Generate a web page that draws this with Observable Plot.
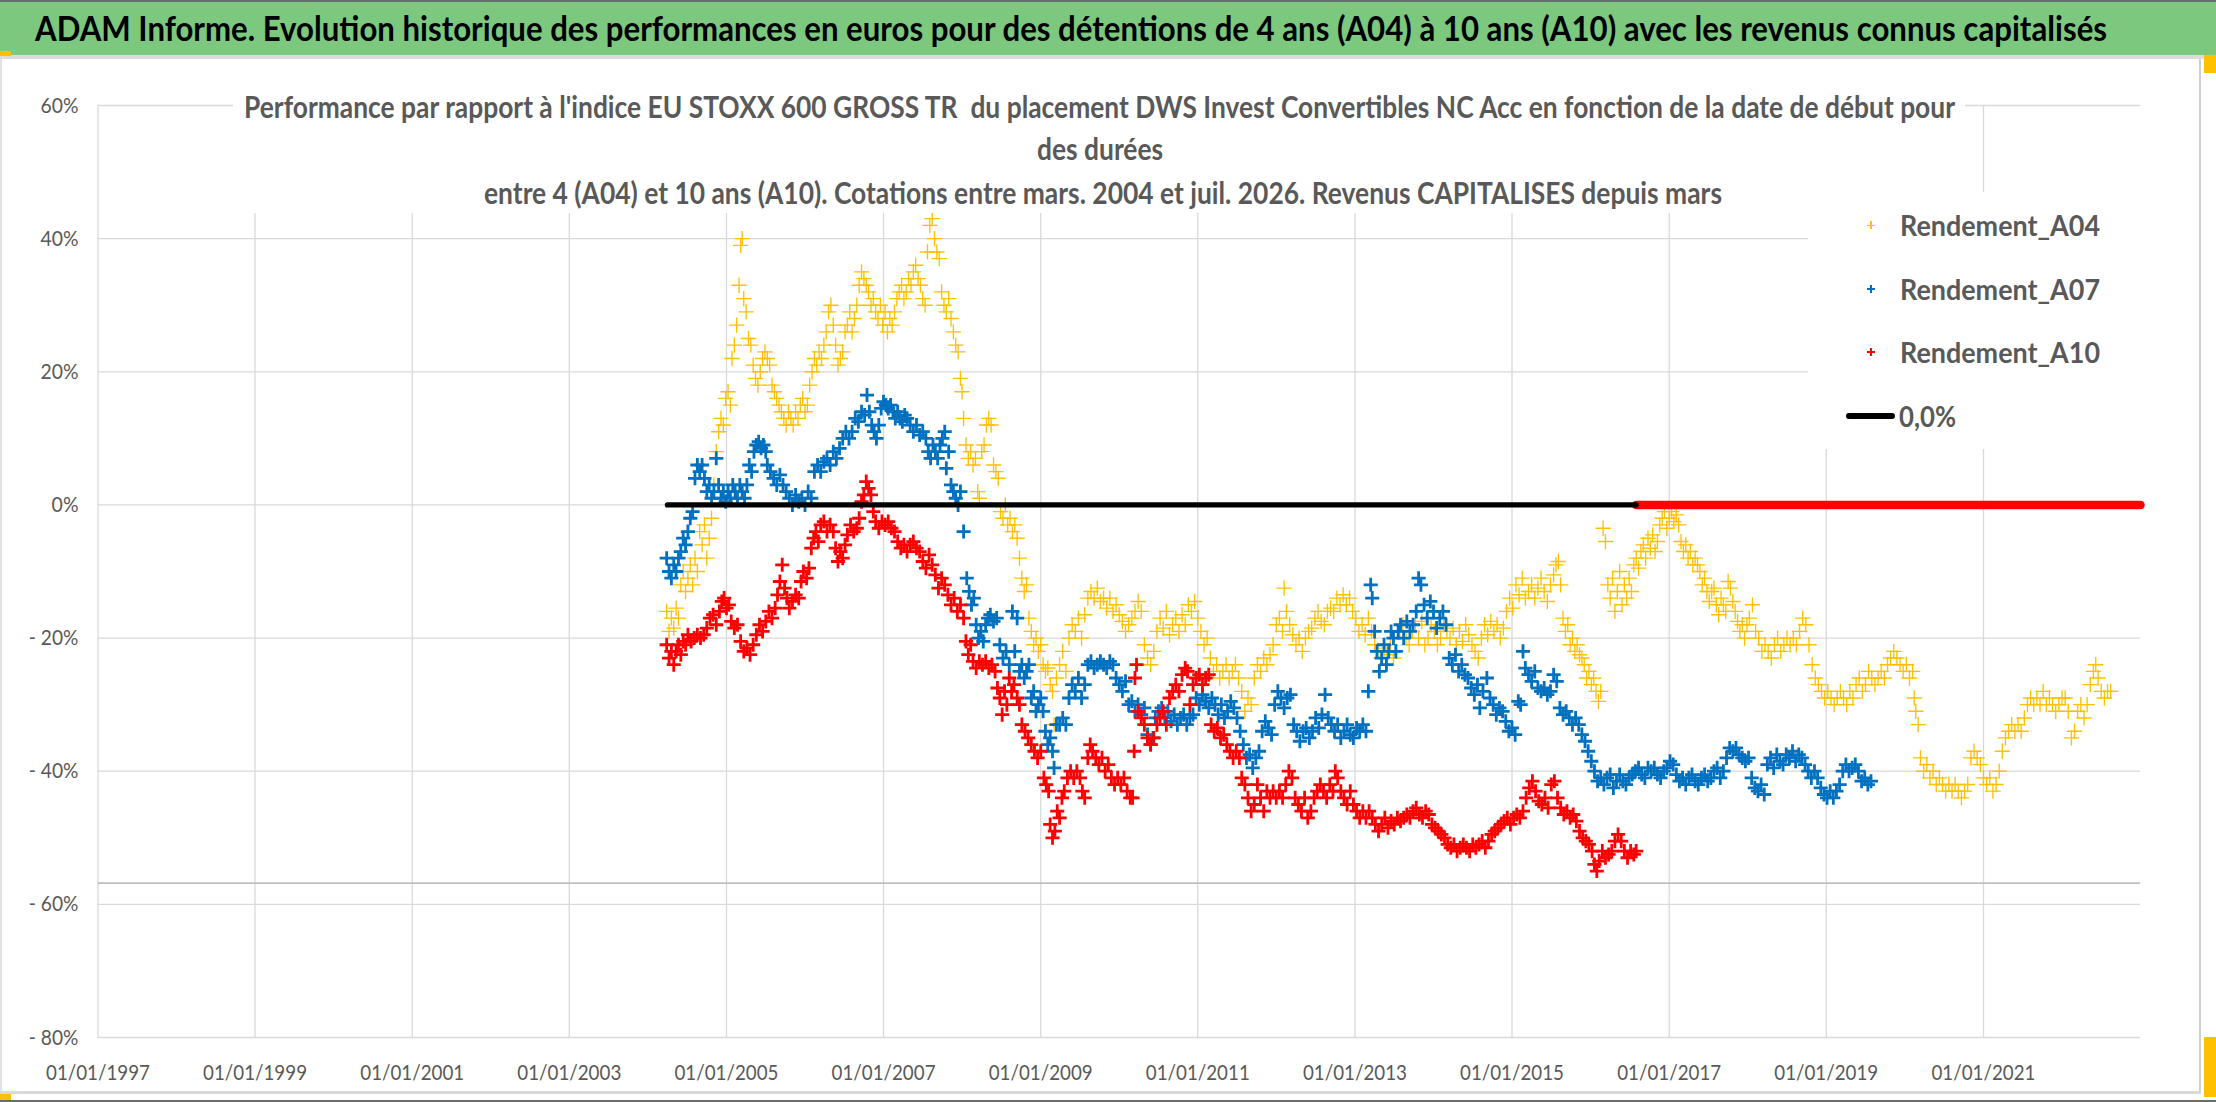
<!DOCTYPE html>
<html><head><meta charset="utf-8">
<script src="https://cdn.jsdelivr.net/npm/d3@7"></script>
<script src="https://cdn.jsdelivr.net/npm/@observablehq/plot@0.6"></script>
<style>
html,body{margin:0;padding:0;background:#fff;}
#page{position:relative;width:2216px;height:1102px;overflow:hidden;background:#fff;font-family:Lato,"Liberation Sans",sans-serif;}
#chart{position:absolute;left:0;top:0;}
.abs{position:absolute;}
.fit{position:absolute;white-space:pre;line-height:1.2;transform-origin:0 50%;}
</style></head>
<body><div id="page">
<div id="chart"></div>
<div class="abs" style="left:0;top:0;width:2216px;height:55px;background:#7DC87F;border-top:2px solid #6c6c6c;box-sizing:border-box"></div>
<div class="abs" style="left:0;top:55px;width:2216px;height:4px;background:#dcdcdc"></div>
<div class="abs" style="left:0;top:51px;width:11px;height:5px;background:#FFC000"></div>
<div class="abs" style="left:2204px;top:55px;width:12px;height:18px;background:#FFC000"></div>
<div class="abs" style="left:0;top:59px;width:2px;height:1033px;background:#e2e2e2"></div>
<div class="abs" style="left:2199px;top:59px;width:2px;height:1035px;background:#cfcfcf"></div>
<div class="abs" style="left:0;top:1091px;width:2201px;height:3px;background:#d9d9d9"></div>
<div class="abs" style="left:2204px;top:1037px;width:12px;height:60px;background:#FFC000"></div>
<div class="abs" style="left:0;top:1094px;width:11px;height:6px;background:#FFC000"></div>
<div class="abs" style="left:0;top:1100px;width:2216px;height:2px;background:#6c6c6c"></div>
<span id="hdr" class="fit" style="font-size:34px;font-weight:700;color:#000">ADAM Informe. Evolution historique des performances en euros pour des détentions de 4 ans (A04) à 10 ans (A10) avec les revenus connus capitalisés</span>
<div class="abs" style="left:233px;top:92px;width:1732px;height:121px;background:#fff"></div>
<span id="t1" class="fit" style="font-size:30px;font-weight:700;color:#595959">Performance par rapport à l'indice EU STOXX 600 GROSS TR  du placement DWS Invest Convertibles NC Acc en fonction de la date de début pour</span>
<span id="t2" class="fit" style="font-size:30px;font-weight:700;color:#595959">des durées</span>
<span id="t3" class="fit" style="font-size:30px;font-weight:700;color:#595959">entre 4 (A04) et 10 ans (A10). Cotations entre mars. 2004 et juil. 2026. Revenus CAPITALISES depuis mars</span>
<div class="abs" style="left:1808px;top:192px;width:332px;height:257px;background:#fff"></div>
<div class="abs" style="left:1867px;top:224.5px;width:8px;height:1.2px;background:#FFC000"></div>
<div class="abs" style="left:1870.4px;top:221px;width:1.2px;height:8px;background:#FFC000"></div>
<div class="abs" style="left:1867px;top:287.8px;width:8px;height:2.4px;background:#0070C0"></div>
<div class="abs" style="left:1869.8px;top:285px;width:2.4px;height:8px;background:#0070C0"></div>
<div class="abs" style="left:1867px;top:350.8px;width:8px;height:2.4px;background:#FF0000"></div>
<div class="abs" style="left:1869.8px;top:348px;width:2.4px;height:8px;background:#FF0000"></div>
<div class="abs" style="left:1846px;top:413px;width:49px;height:6px;background:#000;border-radius:3px"></div>
<span id="l1" class="fit" style="font-size:29px;font-weight:700;color:#595959">Rendement_A04</span>
<span id="l2" class="fit" style="font-size:29px;font-weight:700;color:#595959">Rendement_A07</span>
<span id="l3" class="fit" style="font-size:29px;font-weight:700;color:#595959">Rendement_A10</span>
<span id="l4" class="fit" style="font-size:29px;font-weight:700;color:#595959">0,0%</span>
</div>
<script>
// ---- data (decimal year, % relative performance) ----
const xDomainYears = [1997, 2023];
const xTickYears = [1997, 1999, 2001, 2003, 2005, 2007, 2009, 2011, 2013, 2015, 2017, 2019, 2021];
const yDomain = [-80, 60];
const yTicks = [-80, -60, -40, -20, 0, 20, 40, 60];
const axisCross = -56.8;
const zeroLine = [[2004.25, 0], [2016.58, 0]];
const a10ZeroTail = [[2016.58, 0], [2023.0, 0]];

const a04 = [[2004.24,-16],[2004.27,-19],[2004.30,-17],[2004.33,-18.5],[2004.36,-15.5],[2004.39,-17],[2004.42,-12],[2004.45,-10],[2004.48,-13],[2004.51,-11],[2004.54,-9],[2004.57,-12],[2004.60,-8],[2004.63,-10],[2004.66,-4],[2004.69,-6],[2004.72,-3],[2004.75,-8],[2004.78,-5],[2004.81,-2],[2004.84,3],[2004.87,8],[2004.90,11],[2004.93,13],[2004.96,12],[2004.99,16],[2005.02,17],[2005.05,15],[2005.07,22],[2005.10,24],[2005.13,27],[2005.16,33],[2005.18,39],[2005.20,40],[2005.22,31],[2005.25,29],[2005.28,25],[2005.31,24],[2005.34,21],[2005.37,19],[2005.40,18],[2005.43,20],[2005.46,22],[2005.49,23],[2005.52,22],[2005.55,21],[2005.58,18],[2005.61,17],[2005.64,16],[2005.67,15],[2005.70,14],[2005.73,13],[2005.76,12],[2005.79,14],[2005.82,13],[2005.85,12],[2005.88,14],[2005.91,13],[2005.94,15],[2005.97,16],[2006.00,14],[2006.03,15],[2006.06,18],[2006.09,20],[2006.12,22],[2006.15,21],[2006.18,23],[2006.21,22],[2006.24,24],[2006.27,26],[2006.30,29],[2006.33,30],[2006.36,27],[2006.39,24],[2006.42,21],[2006.45,22],[2006.48,23],[2006.51,26],[2006.54,27],[2006.57,29],[2006.60,26],[2006.63,28],[2006.66,30],[2006.69,33],[2006.72,35],[2006.75,34],[2006.78,33],[2006.81,32],[2006.84,30],[2006.87,31],[2006.90,29],[2006.93,28],[2006.96,30],[2006.99,27],[2007.02,29],[2007.05,26],[2007.08,28],[2007.11,27],[2007.14,29],[2007.17,31],[2007.20,32],[2007.23,33],[2007.26,31],[2007.29,32],[2007.32,34],[2007.35,33],[2007.38,35],[2007.41,36],[2007.44,34],[2007.47,33],[2007.50,31],[2007.53,30],[2007.56,38],[2007.59,42],[2007.62,43],[2007.65,40],[2007.68,38],[2007.71,37],[2007.74,32],[2007.77,30],[2007.80,29],[2007.83,31],[2007.86,28],[2007.89,26],[2007.92,24],[2007.95,23],[2007.98,19],[2008.00,17],[2008.02,13],[2008.05,9],[2008.08,7],[2008.11,8],[2008.14,6],[2008.17,7],[2008.20,2],[2008.22,1],[2008.25,8],[2008.28,9],[2008.31,12],[2008.34,13],[2008.37,12],[2008.40,6],[2008.43,5],[2008.46,4],[2008.49,-1],[2008.52,-2],[2008.55,0],[2008.58,-3],[2008.61,-2],[2008.64,-4],[2008.67,-3],[2008.70,-5],[2008.73,-8],[2008.76,-11],[2008.79,-13],[2008.82,-12],[2008.85,-17],[2008.88,-19],[2008.91,-21],[2008.94,-20],[2008.97,-22],[2009.00,-21],[2009.03,-24],[2009.06,-25],[2009.09,-24.5],[2009.12,-27],[2009.15,-28],[2009.17,-33],[2009.20,-26],[2009.24,-24],[2009.28,-22],[2009.32,-25],[2009.36,-20],[2009.40,-18],[2009.44,-19],[2009.48,-17],[2009.52,-20],[2009.56,-16.5],[2009.60,-14],[2009.64,-13],[2009.68,-14],[2009.72,-12.5],[2009.76,-14.5],[2009.80,-14],[2009.84,-15.5],[2009.88,-14],[2009.92,-16],[2009.96,-15],[2010.00,-16.5],[2010.04,-17.5],[2010.08,-19],[2010.12,-18],[2010.16,-17],[2010.20,-16],[2010.24,-14.5],[2010.28,-16],[2010.32,-21],[2010.36,-23],[2010.40,-24],[2010.44,-22],[2010.48,-19],[2010.52,-17],[2010.56,-18.5],[2010.60,-16],[2010.64,-19.5],[2010.68,-18],[2010.72,-17],[2010.76,-19],[2010.80,-16.5],[2010.84,-18],[2010.88,-15],[2010.92,-16],[2010.96,-14.5],[2011.00,-17],[2011.04,-19],[2011.08,-21],[2011.12,-20],[2011.16,-23],[2011.20,-25],[2011.24,-24],[2011.28,-26],[2011.32,-25],[2011.36,-24],[2011.40,-26],[2011.44,-25],[2011.48,-24],[2011.52,-26],[2011.56,-28],[2011.60,-31],[2011.64,-29],[2011.68,-30],[2011.72,-26],[2011.76,-24],[2011.80,-25],[2011.84,-23],[2011.88,-24],[2011.92,-22.5],[2011.96,-21],[2012.00,-18],[2012.04,-17],[2012.08,-19],[2012.10,-12.5],[2012.13,-16],[2012.17,-18],[2012.21,-19.5],[2012.25,-21],[2012.29,-20],[2012.33,-22],[2012.37,-20],[2012.41,-19],[2012.45,-18.5],[2012.49,-17],[2012.53,-16],[2012.57,-17.5],[2012.61,-18],[2012.65,-16],[2012.69,-15.5],[2012.73,-16],[2012.77,-14],[2012.81,-15],[2012.85,-13.5],[2012.89,-15],[2012.93,-14],[2012.97,-16],[2013.01,-17],[2013.05,-19],[2013.09,-18],[2013.13,-19.5],[2013.17,-17],[2013.21,-19],[2013.25,-21],[2013.29,-22],[2013.33,-23],[2013.37,-21.5],[2013.41,-22.5],[2013.45,-21],[2013.49,-23],[2013.53,-22],[2013.57,-19],[2013.61,-18],[2013.65,-20],[2013.69,-21],[2013.73,-19],[2013.77,-18],[2013.81,-20],[2013.85,-17.5],[2013.89,-21],[2013.93,-20],[2013.97,-18],[2014.01,-19],[2014.05,-21],[2014.09,-20],[2014.13,-18],[2014.17,-19],[2014.21,-20],[2014.25,-18.5],[2014.29,-21],[2014.33,-19],[2014.37,-20.5],[2014.41,-18],[2014.45,-19.5],[2014.49,-21],[2014.53,-22],[2014.57,-23],[2014.61,-20],[2014.65,-18],[2014.69,-19.5],[2014.73,-17.5],[2014.77,-19],[2014.81,-18],[2014.85,-20],[2014.89,-18.5],[2014.93,-16],[2014.97,-14],[2015.01,-15.5],[2015.05,-12],[2015.09,-13.5],[2015.13,-11],[2015.17,-14],[2015.21,-13],[2015.25,-12],[2015.29,-14],[2015.33,-12.5],[2015.37,-11],[2015.41,-13],[2015.45,-14.5],[2015.49,-12],[2015.53,-10.5],[2015.56,-9],[2015.59,-8.5],[2015.62,-12],[2015.65,-17],[2015.68,-19],[2015.71,-18],[2015.74,-21],[2015.77,-20],[2015.80,-22],[2015.83,-21],[2015.86,-22.5],[2015.89,-23],[2015.92,-24],[2015.95,-26],[2015.98,-25],[2016.01,-27],[2016.04,-26],[2016.07,-28],[2016.10,-29.5],[2016.13,-28],[2016.16,-3.5],[2016.19,-5.5],[2016.22,-12],[2016.25,-14],[2016.28,-11],[2016.31,-16],[2016.34,-13],[2016.37,-10],[2016.40,-15],[2016.43,-12],[2016.46,-14],[2016.49,-11],[2016.52,-13],[2016.55,-9],[2016.58,-8],[2016.61,-9.5],[2016.64,-7],[2016.67,-6],[2016.70,-8],[2016.73,-5],[2016.76,-6.5],[2016.79,-4.5],[2016.82,-7],[2016.85,-5.5],[2016.88,-3],[2016.91,-2],[2016.94,-1],[2016.97,-3.5],[2017.00,-2],[2017.03,-1],[2017.06,-2.5],[2017.09,-1.5],[2017.12,-3],[2017.15,-5.5],[2017.18,-7],[2017.21,-6],[2017.24,-8],[2017.27,-7],[2017.30,-9],[2017.33,-8],[2017.36,-9],[2017.39,-10],[2017.42,-12],[2017.45,-11],[2017.48,-13],[2017.51,-14.5],[2017.54,-13],[2017.57,-12.5],[2017.60,-15],[2017.63,-16.5],[2017.66,-14],[2017.69,-15],[2017.72,-16],[2017.75,-11.5],[2017.78,-12.5],[2017.81,-14.5],[2017.84,-16],[2017.87,-17.5],[2017.90,-19],[2017.93,-18],[2017.96,-20],[2017.99,-18],[2018.02,-17],[2018.06,-15],[2018.10,-19],[2018.14,-20],[2018.18,-22],[2018.22,-21],[2018.26,-22],[2018.30,-23],[2018.34,-21],[2018.38,-20],[2018.42,-22],[2018.46,-21],[2018.50,-20],[2018.54,-21],[2018.58,-20],[2018.62,-21],[2018.66,-19],[2018.70,-17],[2018.74,-18],[2018.78,-21],[2018.82,-24],[2018.86,-26],[2018.90,-27],[2018.94,-28],[2018.98,-29],[2019.02,-28],[2019.06,-29],[2019.10,-30],[2019.14,-29],[2019.18,-28],[2019.22,-29],[2019.26,-30],[2019.30,-28],[2019.34,-29],[2019.38,-27],[2019.42,-26],[2019.46,-28],[2019.50,-27],[2019.54,-25],[2019.58,-26],[2019.62,-27],[2019.66,-26],[2019.70,-25],[2019.74,-26],[2019.78,-24],[2019.82,-23],[2019.86,-22],[2019.90,-23],[2019.94,-24],[2019.98,-25],[2020.02,-24],[2020.06,-26],[2020.10,-25],[2020.12,-29],[2020.14,-31],[2020.17,-33],[2020.20,-38],[2020.24,-40],[2020.28,-39],[2020.32,-41],[2020.36,-40],[2020.40,-42],[2020.44,-41],[2020.48,-42],[2020.52,-43],[2020.56,-42],[2020.60,-43],[2020.64,-42],[2020.68,-43],[2020.72,-44],[2020.76,-43],[2020.80,-42],[2020.84,-38],[2020.88,-37],[2020.92,-38],[2020.96,-39],[2021.00,-41],[2021.04,-42],[2021.08,-41],[2021.12,-43],[2021.16,-42],[2021.20,-40],[2021.24,-37],[2021.28,-35],[2021.32,-34],[2021.36,-33],[2021.40,-34],[2021.44,-33],[2021.48,-34],[2021.52,-32],[2021.56,-30],[2021.60,-29],[2021.64,-30],[2021.68,-29],[2021.72,-30],[2021.76,-28],[2021.80,-30],[2021.84,-29],[2021.88,-30],[2021.92,-31],[2021.96,-30],[2022.00,-29],[2022.04,-29],[2022.08,-31],[2022.12,-35],[2022.16,-34],[2022.20,-31],[2022.24,-30],[2022.28,-32],[2022.32,-30],[2022.36,-27],[2022.40,-25],[2022.43,-24],[2022.46,-26],[2022.50,-28],[2022.54,-29],[2022.58,-28],[2022.62,-28]];

const a07 = [[2004.24,-8],[2004.27,-10],[2004.30,-11],[2004.33,-9],[2004.36,-10],[2004.39,-8],[2004.42,-7],[2004.45,-5],[2004.48,-6],[2004.51,-4],[2004.54,-2],[2004.57,-1],[2004.60,4],[2004.63,6],[2004.66,5],[2004.69,6],[2004.72,4],[2004.75,2],[2004.78,3],[2004.81,1],[2004.84,2],[2004.87,7],[2004.90,3],[2004.93,1],[2004.96,2],[2004.99,0.5],[2005.02,2],[2005.05,1],[2005.08,3],[2005.11,2],[2005.14,1],[2005.17,3],[2005.20,2],[2005.23,1],[2005.26,3],[2005.29,6],[2005.32,5],[2005.35,8],[2005.38,9],[2005.41,9.5],[2005.44,8.5],[2005.47,9],[2005.50,8],[2005.52,6],[2005.56,5],[2005.60,4],[2005.64,3],[2005.68,4.5],[2005.72,3],[2005.76,2],[2005.80,1],[2005.84,0],[2005.88,1.5],[2005.92,0.5],[2005.96,1],[2006.00,0],[2006.04,2],[2006.08,1],[2006.12,5],[2006.16,6],[2006.20,5],[2006.24,6.5],[2006.28,7],[2006.32,6],[2006.36,8],[2006.40,7],[2006.44,8.5],[2006.48,10],[2006.52,11],[2006.56,10],[2006.60,11],[2006.64,13],[2006.68,12.5],[2006.72,14],[2006.76,13.5],[2006.79,16.5],[2006.82,14],[2006.85,12],[2006.88,11],[2006.91,10],[2006.94,12],[2006.97,14.5],[2007.00,15.5],[2007.03,15],[2007.06,14.5],[2007.09,15],[2007.12,14],[2007.15,13],[2007.18,14],[2007.21,13],[2007.24,12.5],[2007.27,13.5],[2007.30,13],[2007.34,12],[2007.38,11],[2007.42,12],[2007.46,10.5],[2007.50,11],[2007.54,10],[2007.57,8],[2007.60,7],[2007.63,9],[2007.66,8],[2007.69,7],[2007.72,9],[2007.75,10],[2007.78,11],[2007.80,5.5],[2007.83,8],[2007.86,3],[2007.89,2],[2007.92,1],[2007.95,0],[2007.98,2],[2008.02,-4],[2008.06,-11],[2008.09,-13],[2008.12,-15],[2008.15,-14],[2008.18,-18],[2008.21,-20],[2008.24,-19],[2008.27,-20.5],[2008.30,-18],[2008.33,-17],[2008.36,-16.5],[2008.40,-17.5],[2008.44,-17],[2008.48,-21],[2008.52,-23],[2008.56,-22],[2008.60,-24],[2008.64,-16],[2008.67,-22],[2008.70,-17],[2008.73,-25],[2008.76,-24],[2008.79,-26],[2008.82,-25],[2008.85,-24],[2008.88,-29],[2008.91,-28],[2008.94,-31],[2008.97,-30],[2009.00,-29],[2009.03,-31],[2009.06,-34],[2009.09,-36],[2009.12,-35],[2009.15,-37],[2009.17,-39.5],[2009.20,-33],[2009.24,-33],[2009.28,-32],[2009.32,-33],[2009.36,-29],[2009.40,-27],[2009.44,-28],[2009.48,-26],[2009.52,-29],[2009.56,-27],[2009.60,-24],[2009.64,-23.5],[2009.68,-24.5],[2009.72,-24],[2009.76,-23.5],[2009.80,-24],[2009.84,-24.5],[2009.88,-23.5],[2009.92,-24],[2009.96,-26],[2010.00,-27],[2010.04,-28],[2010.08,-26.5],[2010.12,-30],[2010.16,-29.5],[2010.20,-31],[2010.24,-30],[2010.28,-31.5],[2010.32,-30.5],[2010.36,-34.5],[2010.40,-36],[2010.43,-35],[2010.46,-32],[2010.50,-31],[2010.54,-30.5],[2010.58,-32],[2010.62,-31],[2010.66,-32.5],[2010.70,-31.5],[2010.74,-33],[2010.78,-32],[2010.82,-31.5],[2010.86,-33],[2010.90,-32],[2010.94,-31.5],[2010.98,-29],[2011.02,-30],[2011.06,-28.5],[2011.10,-29.5],[2011.14,-30.5],[2011.18,-29],[2011.22,-30],[2011.26,-31.5],[2011.30,-30],[2011.34,-32],[2011.38,-31],[2011.42,-29.5],[2011.46,-30.5],[2011.50,-32],[2011.54,-34],[2011.58,-36],[2011.62,-38],[2011.66,-37.5],[2011.70,-39.5],[2011.74,-38],[2011.78,-37],[2011.82,-34],[2011.86,-32.5],[2011.90,-33.5],[2011.94,-34.5],[2011.98,-30],[2012.02,-28],[2012.06,-29],[2012.10,-30.5],[2012.14,-29],[2012.18,-28.5],[2012.22,-33],[2012.26,-34],[2012.30,-35.5],[2012.34,-34],[2012.38,-33.5],[2012.42,-35],[2012.46,-34],[2012.50,-32],[2012.54,-33.5],[2012.58,-31.5],[2012.62,-28.5],[2012.66,-32],[2012.70,-33],[2012.74,-34],[2012.78,-33],[2012.82,-35],[2012.86,-34],[2012.90,-33],[2012.94,-34.5],[2012.98,-35],[2013.02,-33.5],[2013.06,-34],[2013.10,-33],[2013.14,-34],[2013.17,-28],[2013.20,-12],[2013.22,-14],[2013.25,-19],[2013.28,-22],[2013.31,-25],[2013.34,-23],[2013.37,-21],[2013.40,-24],[2013.43,-22],[2013.46,-19],[2013.49,-20],[2013.52,-22],[2013.55,-19],[2013.58,-18],[2013.62,-20],[2013.66,-17.5],[2013.70,-19],[2013.74,-18],[2013.78,-16],[2013.81,-11],[2013.84,-12],[2013.88,-15],[2013.92,-17],[2013.96,-14.5],[2014.00,-16],[2014.04,-18.5],[2014.08,-17],[2014.12,-16],[2014.16,-18],[2014.20,-23],[2014.24,-24],[2014.28,-22.5],[2014.32,-25],[2014.36,-24],[2014.40,-25.5],[2014.44,-26],[2014.48,-27.5],[2014.52,-28.5],[2014.56,-27],[2014.59,-30.5],[2014.63,-28],[2014.68,-26],[2014.72,-29],[2014.76,-30],[2014.80,-31.5],[2014.84,-30.5],[2014.88,-31],[2014.92,-32.5],[2014.96,-34],[2015.00,-33.5],[2015.04,-34.5],[2015.08,-29.5],[2015.11,-30],[2015.14,-22],[2015.17,-24.5],[2015.21,-25.5],[2015.25,-26.5],[2015.29,-25],[2015.33,-27.5],[2015.37,-28],[2015.41,-27.5],[2015.45,-28.5],[2015.49,-28],[2015.53,-25.5],[2015.57,-26.5],[2015.61,-30.5],[2015.65,-31.5],[2015.69,-31],[2015.73,-32],[2015.77,-33],[2015.81,-32],[2015.85,-33],[2015.89,-34.5],[2015.93,-35.5],[2015.97,-37],[2016.01,-38.5],[2016.05,-40],[2016.09,-41.5],[2016.13,-41],[2016.17,-42],[2016.21,-41],[2016.25,-40.5],[2016.29,-42.5],[2016.33,-41.5],[2016.37,-40.5],[2016.41,-41.5],[2016.45,-42],[2016.49,-41],[2016.53,-40.5],[2016.57,-40],[2016.61,-39.5],[2016.65,-40.5],[2016.69,-41],[2016.73,-39.5],[2016.77,-40],[2016.81,-39.5],[2016.85,-40.5],[2016.89,-41],[2016.93,-40],[2016.97,-39.5],[2017.01,-38.5],[2017.05,-39],[2017.09,-40.5],[2017.13,-41.5],[2017.17,-41],[2017.21,-42],[2017.25,-41],[2017.29,-40.5],[2017.33,-41.5],[2017.37,-42],[2017.41,-41],[2017.45,-40.5],[2017.49,-41.5],[2017.53,-41],[2017.57,-40],[2017.61,-39.5],[2017.65,-41],[2017.69,-40],[2017.73,-38],[2017.77,-36.5],[2017.81,-37],[2017.85,-36.5],[2017.89,-37.5],[2017.93,-38],[2017.97,-38.5],[2018.01,-38],[2018.05,-41],[2018.09,-42.5],[2018.13,-43],[2018.17,-42],[2018.21,-43.5],[2018.25,-39],[2018.29,-38],[2018.33,-39.5],[2018.37,-37.5],[2018.41,-38.5],[2018.45,-39],[2018.49,-37.5],[2018.53,-38],[2018.57,-37],[2018.61,-38.5],[2018.65,-37.5],[2018.69,-38],[2018.73,-39],[2018.77,-40],[2018.81,-41],[2018.85,-40],[2018.89,-41],[2018.93,-42.5],[2018.97,-43.5],[2019.01,-44],[2019.05,-43],[2019.09,-44],[2019.13,-43],[2019.17,-42],[2019.21,-40],[2019.25,-39],[2019.29,-40],[2019.33,-39.5],[2019.37,-39],[2019.41,-40],[2019.45,-41.5],[2019.49,-41],[2019.53,-42],[2019.57,-41.5]];

const a10 = [[2004.24,-21],[2004.27,-23],[2004.30,-22],[2004.33,-24],[2004.36,-22],[2004.39,-21],[2004.42,-22.5],[2004.45,-20.5],[2004.48,-21],[2004.51,-19.5],[2004.55,-20.5],[2004.59,-20],[2004.63,-19.5],[2004.67,-20],[2004.71,-19.5],[2004.75,-18.5],[2004.79,-17],[2004.83,-16.5],[2004.87,-18],[2004.91,-16],[2004.94,-14.5],[2004.97,-14],[2005.00,-15.5],[2005.03,-15],[2005.06,-17.5],[2005.10,-18.5],[2005.14,-18],[2005.18,-20.5],[2005.22,-22],[2005.26,-21.5],[2005.30,-22.5],[2005.34,-21],[2005.38,-19.5],[2005.42,-18],[2005.46,-19],[2005.50,-17.5],[2005.54,-16],[2005.58,-17],[2005.62,-15.5],[2005.65,-13.5],[2005.68,-11.5],[2005.71,-9],[2005.74,-12.5],[2005.77,-14],[2005.80,-15.5],[2005.84,-14.5],[2005.88,-13.5],[2005.92,-14],[2005.95,-11.5],[2005.98,-10],[2006.02,-11],[2006.05,-9.5],[2006.08,-6.5],[2006.11,-5],[2006.14,-4],[2006.17,-5.5],[2006.20,-3],[2006.24,-2.5],[2006.28,-4],[2006.32,-3],[2006.36,-4],[2006.39,-6.5],[2006.42,-8.5],[2006.45,-7],[2006.48,-8],[2006.51,-6],[2006.54,-4.5],[2006.58,-3],[2006.62,-4],[2006.66,-3.5],[2006.69,-2],[2006.72,0.5],[2006.75,1.5],[2006.78,3.5],[2006.81,2.5],[2006.84,1.5],[2006.87,-1],[2006.90,-2.5],[2006.94,-3.5],[2006.98,-2.5],[2007.02,-3],[2007.06,-2.5],[2007.10,-3.5],[2007.14,-4],[2007.18,-5.5],[2007.22,-6.5],[2007.26,-6],[2007.30,-7],[2007.34,-6],[2007.38,-5.5],[2007.42,-6.5],[2007.46,-7],[2007.50,-8.5],[2007.54,-9.5],[2007.58,-7.5],[2007.62,-9],[2007.66,-10.5],[2007.70,-12.5],[2007.74,-11],[2007.78,-12],[2007.82,-13.5],[2007.86,-15],[2007.90,-14],[2007.94,-16],[2007.98,-15],[2008.02,-17],[2008.05,-20.5],[2008.08,-22.5],[2008.11,-21],[2008.14,-23.5],[2008.18,-24.5],[2008.22,-23.5],[2008.26,-24],[2008.30,-23.5],[2008.34,-24.5],[2008.38,-24],[2008.42,-25],[2008.45,-27.5],[2008.48,-29],[2008.51,-31.5],[2008.54,-28],[2008.57,-30],[2008.60,-26],[2008.63,-28],[2008.66,-27],[2008.70,-29],[2008.73,-30],[2008.76,-33],[2008.80,-34],[2008.84,-35],[2008.88,-36],[2008.92,-37],[2008.96,-38],[2009.00,-37],[2009.04,-41],[2009.07,-42],[2009.10,-43],[2009.12,-48],[2009.15,-50],[2009.18,-49],[2009.21,-46],[2009.24,-47],[2009.27,-44],[2009.30,-43],[2009.34,-41],[2009.38,-40],[2009.42,-41],[2009.46,-40],[2009.50,-41],[2009.53,-43],[2009.56,-44],[2009.60,-38],[2009.63,-36],[2009.66,-37],[2009.70,-38],[2009.74,-39],[2009.78,-38],[2009.82,-40],[2009.86,-39],[2009.90,-41],[2009.94,-42],[2009.98,-41],[2010.02,-42],[2010.06,-41],[2010.10,-43],[2010.14,-44],[2010.17,-44],[2010.19,-37],[2010.20,-26],[2010.22,-24],[2010.24,-31],[2010.28,-32],[2010.32,-33],[2010.36,-35],[2010.40,-36],[2010.44,-35],[2010.48,-33],[2010.52,-32],[2010.56,-31],[2010.60,-33],[2010.64,-29],[2010.68,-28],[2010.72,-27],[2010.76,-28],[2010.80,-25.5],[2010.84,-24.5],[2010.87,-25],[2010.90,-30],[2010.94,-27],[2010.98,-26],[2011.02,-25.5],[2011.06,-27],[2011.10,-26],[2011.14,-25.5],[2011.17,-33],[2011.21,-34],[2011.25,-33.5],[2011.29,-35],[2011.33,-34.5],[2011.37,-36],[2011.41,-37],[2011.45,-38],[2011.49,-37],[2011.53,-38],[2011.56,-41],[2011.60,-42],[2011.64,-44],[2011.68,-46],[2011.72,-45],[2011.76,-42],[2011.80,-44],[2011.84,-46],[2011.88,-43],[2011.92,-44],[2011.96,-43],[2012.00,-44],[2012.04,-43],[2012.08,-44],[2012.12,-42],[2012.16,-40],[2012.20,-41],[2012.24,-44],[2012.28,-45],[2012.32,-46],[2012.36,-44],[2012.40,-47],[2012.44,-46],[2012.48,-44],[2012.52,-43],[2012.56,-42],[2012.60,-43],[2012.64,-44],[2012.68,-42],[2012.72,-43],[2012.75,-40],[2012.78,-41],[2012.82,-43],[2012.86,-44],[2012.90,-45],[2012.94,-43],[2012.98,-45],[2013.02,-46],[2013.06,-47],[2013.10,-46],[2013.14,-47],[2013.18,-46],[2013.22,-47],[2013.26,-48],[2013.30,-49],[2013.34,-48],[2013.38,-47],[2013.42,-48.5],[2013.46,-47.5],[2013.50,-48],[2013.54,-47],[2013.58,-47.5],[2013.62,-47],[2013.66,-46.5],[2013.70,-47],[2013.74,-46],[2013.78,-45.5],[2013.82,-46.5],[2013.86,-47],[2013.90,-46],[2013.94,-46.5],[2013.98,-48],[2014.02,-48.5],[2014.06,-49],[2014.10,-49.5],[2014.14,-50],[2014.18,-51],[2014.22,-51.5],[2014.26,-51],[2014.30,-52],[2014.34,-51.5],[2014.38,-51],[2014.42,-51.5],[2014.46,-52],[2014.50,-51],[2014.54,-51.5],[2014.58,-51],[2014.62,-50.5],[2014.66,-51.5],[2014.70,-50.5],[2014.74,-49.5],[2014.78,-49],[2014.82,-48.5],[2014.86,-48],[2014.90,-47.5],[2014.94,-47],[2014.98,-48],[2015.02,-47],[2015.06,-46.5],[2015.10,-47],[2015.14,-46],[2015.18,-44],[2015.22,-42.5],[2015.26,-41.5],[2015.30,-43],[2015.34,-44.5],[2015.38,-45],[2015.42,-44],[2015.46,-45.5],[2015.50,-42],[2015.54,-41.5],[2015.58,-44],[2015.62,-45.5],[2015.66,-46.5],[2015.70,-46],[2015.74,-47],[2015.78,-46.5],[2015.82,-47.5],[2015.86,-49],[2015.90,-50],[2015.94,-50.5],[2015.98,-51],[2016.02,-52],[2016.05,-54],[2016.08,-55],[2016.11,-53.5],[2016.15,-52],[2016.19,-53],[2016.23,-52.5],[2016.27,-52],[2016.31,-50.5],[2016.35,-49.5],[2016.39,-50.5],[2016.43,-52],[2016.47,-53],[2016.51,-52],[2016.55,-52.5],[2016.58,-52]];

// ---- helpers ----
const toDate = y => { const Y = Math.floor(y), s = Date.UTC(Y, 0, 1), e = Date.UTC(Y + 1, 0, 1); return new Date(s + (y - Y) * (e - s)); };
const rows = arr => arr.map(([t, v]) => ({date: toDate(t), value: v}));
const pctFmt = v => v === 0 ? "0%" : v < 0 ? `- ${-v}%` : `${v}%`;
const FONT = "Lato, 'Liberation Sans', sans-serif";

const chart = Plot.plot({
  width: 2216, height: 1102,
  marginLeft: 97.5, marginRight: 76, marginTop: 105, marginBottom: 65,
  x: {type: "utc", domain: xDomainYears.map(toDate)},
  y: {domain: yDomain},
  style: {fontFamily: FONT, fontSize: "22px", color: "#595959", background: "transparent"},
  marks: [
    Plot.gridX(xTickYears.map(toDate), {stroke: "#d9d9d9", strokeOpacity: 1, strokeWidth: 1.3}),
    Plot.gridY(yTicks, {stroke: "#d9d9d9", strokeOpacity: 1, strokeWidth: 1.3}),
    Plot.ruleY([axisCross], {stroke: "#bfbfbf", strokeWidth: 1.8}),
    Plot.axisX(xTickYears.map(toDate), {tickFormat: d3.utcFormat("%d/%m/%Y"), tickSize: 0, tickPadding: 27, label: null}),
    Plot.axisY(yTicks, {tickFormat: pctFmt, tickSize: 0, tickPadding: 19.5, label: null}),
    Plot.dot(rows(a04), {x: "date", y: "value", symbol: "plus", r: 5.0, stroke: "#FFC000", strokeWidth: 1.35}),
    Plot.dot(rows(a07), {x: "date", y: "value", symbol: "plus", r: 4.6, stroke: "#0070C0", strokeWidth: 2.8}),
    Plot.dot(rows(a10), {x: "date", y: "value", symbol: "plus", r: 4.6, stroke: "#FF0000", strokeWidth: 2.8}),
    Plot.lineY(rows(a10ZeroTail), {x: "date", y: "value", stroke: "#FF0000", strokeWidth: 8.5}),
    Plot.lineY(rows(zeroLine), {x: "date", y: "value", stroke: "#000000", strokeWidth: 5.3})
  ]
});
document.getElementById("chart").appendChild(chart);

// Calibri-like widths for tick labels
const cw = {"0":.507,"1":.507,"2":.507,"3":.507,"4":.507,"5":.507,"6":.507,"7":.507,"8":.507,"9":.507,"%":.715,"-":.306," ":.226,"/":.386};
const cWidth = (s, fs) => [...s].reduce((a, c) => a + (cw[c] ?? .5), 0) * fs;
chart.querySelectorAll('g[aria-label="x-axis tick label"] text').forEach(t => {
  t.setAttribute("textLength", 104); t.setAttribute("lengthAdjust", "spacingAndGlyphs");
});
chart.querySelectorAll('g[aria-label="y-axis tick label"] text').forEach(t => {
  t.setAttribute("textLength", cWidth(t.textContent, 22).toFixed(1)); t.setAttribute("lengthAdjust", "spacingAndGlyphs");
});

// fit HTML text lines to measured widths
function place(id, left, width, cy) {
  const el = document.getElementById(id);
  const r = el.getBoundingClientRect();
  const k = width / r.width;
  el.style.left = left + "px";
  el.style.top = (cy - r.height / 2) + "px";
  el.style.transform = `scaleX(${k})`;
  return k;
}
place("hdr", 35, 2072, 28);
const k1 = place("t1", 244, 1711, 106);
{
  const el = document.getElementById("t2"); const r = el.getBoundingClientRect();
  el.style.left = (1100 - r.width * k1 / 2) + "px"; el.style.top = (148 - r.height / 2) + "px";
  el.style.transform = `scaleX(${k1})`;
}
place("t3", 484, 1238, 192);
place("l1", 1900, 200, 225);
place("l2", 1900, 200, 289);
place("l3", 1900, 200, 352);
place("l4", 1899, 57, 416);
</script>
</body></html>
